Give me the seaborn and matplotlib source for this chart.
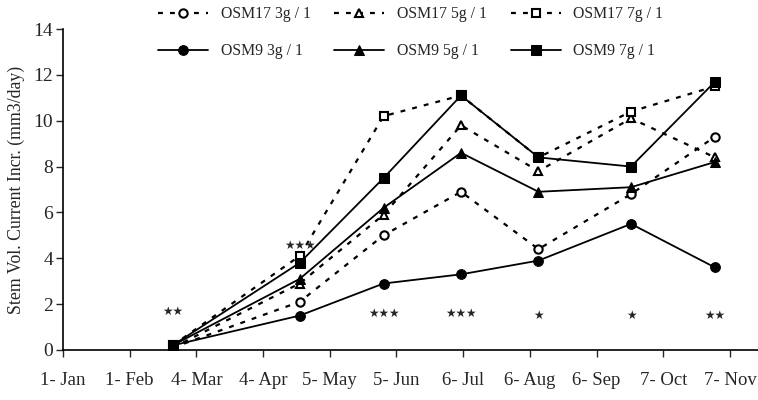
import matplotlib
matplotlib.use("Agg")
import matplotlib.pyplot as plt
import seaborn as sns
import pandas as pd

days = [51, 110, 149, 185, 221, 264, 303]
tick_days = [0, 31, 62, 93, 124, 155, 186, 217, 248, 279, 310]
tick_labels = ["1- Jan", "1- Feb", "4- Mar", "4- Apr", "5- May", "5- Jun",
               "6- Jul", "6- Aug", "6- Sep", "7- Oct", "7- Nov"]

osm17_3 = [0.1, 2.1, 5.0, 6.9, 4.4, 6.8, 9.3]
osm17_5 = [0.1, 2.9, 5.9, 9.8, 7.8, 10.1, 8.4]
osm17_7 = [0.2, 4.1, 10.2, 11.1, 8.4, 10.4, 11.5]
osm9_3 = [0.2, 1.5, 2.9, 3.3, 3.9, 5.5, 3.6]
osm9_5 = [0.2, 3.1, 6.2, 8.6, 6.9, 7.1, 8.2]
osm9_7 = [0.2, 3.8, 7.5, 11.1, 8.4, 8.0, 11.7]

sig_days = [51, 110, 149, 185, 221, 264, 303]
sig_labels = ["★★", "★★★", "★★★", "★★★", "★", "★", "★★"]
sig_y = [1.7, 4.55, 1.6, 1.6, 1.5, 1.5, 1.5]

series = [
    ("OSM17 3g / 1", osm17_3, "o", False),
    ("OSM9 3g / 1", osm9_3, "o", True),
    ("OSM17 5g / 1", osm17_5, "^", False),
    ("OSM9 5g / 1", osm9_5, "^", True),
    ("OSM17 7g / 1", osm17_7, "s", False),
    ("OSM9 7g / 1", osm9_7, "s", True),
]

sns.set_style("ticks")
plt.rcParams["font.family"] = ["Liberation Serif", "DejaVu Serif"]
plt.rcParams["font.size"] = 11

fig = plt.figure(figsize=(7.58, 4.0), dpi=100)
ax = fig.add_axes([0.083, 0.125, 0.917, 0.8025])

for name, vals, mk, solid in series:
    df = pd.DataFrame({"day": days, "val": vals})
    if solid:
        sns.lineplot(data=df, x="day", y="val", ax=ax, color="black",
                     linewidth=1.3, linestyle="-", marker=mk, markersize=7,
                     markerfacecolor="black", markeredgecolor="black",
                     label=name)
    else:
        sns.lineplot(data=df, x="day", y="val", ax=ax, color="black",
                     linewidth=1.6, linestyle=(0, (2.2, 3.2)), marker=mk,
                     markersize=6, markerfacecolor="white",
                     markeredgecolor="black", markeredgewidth=1.5,
                     label=name)

for d, lab, yv in zip(sig_days, sig_labels, sig_y):
    ax.text(d, yv, lab, ha="center", va="center", fontsize=8.5,
            family=["DejaVu Sans"])

ax.set_xlim(0, 323)
ax.set_ylim(0, 14)
ax.set_xticks(tick_days)
ax.set_xticklabels(tick_labels, fontsize=13.5)
ax.set_yticks(range(0, 15, 2))
ax.tick_params(axis="y", labelsize=14, length=5, width=1, direction="out",
               pad=2)
ax.tick_params(axis="x", length=5, width=1, direction="out", pad=11)
ax.set_xlabel("")
ax.set_ylabel("Stem Vol. Current Incr. (mm3/day)", fontsize=12.8, labelpad=6)
sns.despine(ax=ax)
for s in ["left", "bottom"]:
    ax.spines[s].set_linewidth(1.2)
    ax.spines[s].set_color("black")

handles, labels = ax.get_legend_handles_labels()
ax.legend(handles, labels, ncol=3, loc="upper left",
          bbox_to_anchor=(0.2, 1.0), bbox_transform=fig.transFigure,
          frameon=False, fontsize=11.3, handlelength=3.2, handletextpad=0.8,
          columnspacing=1.5, labelspacing=1.35, borderaxespad=0)

fig.savefig("out.png", dpi=100)
